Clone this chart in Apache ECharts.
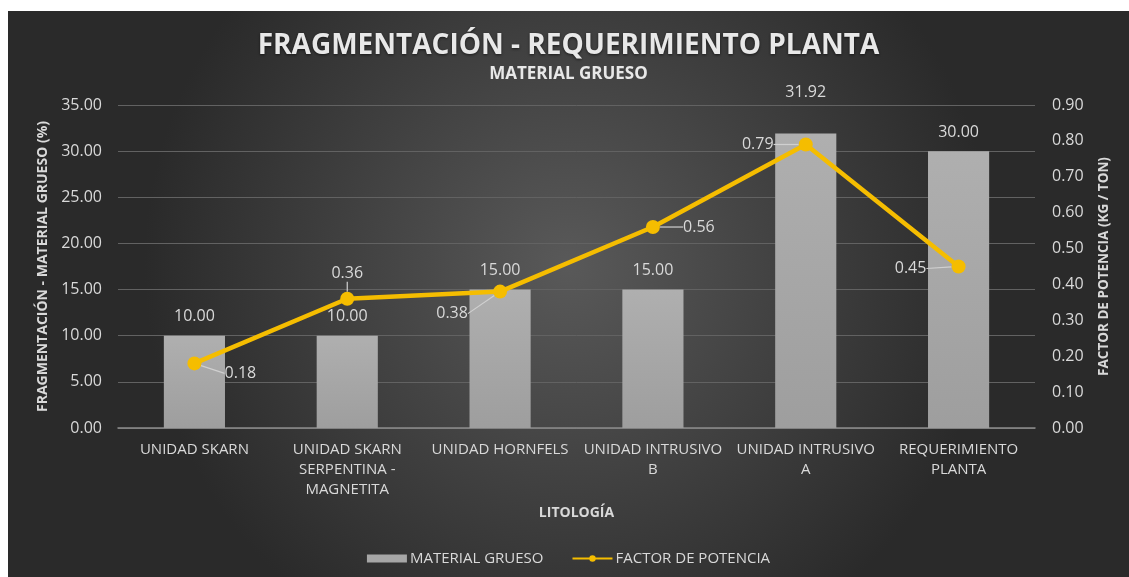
<!DOCTYPE html>
<html>
<head>
<meta charset="utf-8">
<script src="https://cdn.jsdelivr.net/npm/echarts@6/dist/echarts.min.js"></script>
<style>
    html, body { margin: 0; padding: 0; background: #ffffff; }
    #chart { position: absolute; left: 8px; top: 11px; width: 1121px; height: 566px; }
</style>
</head>
<body>
<div id="chart"></div>
<script>
var categories = ['UNIDAD SKARN', 'UNIDAD SKARN\nSERPENTINA -\nMAGNETITA', 'UNIDAD HORNFELS', 'UNIDAD INTRUSIVO\nB', 'UNIDAD INTRUSIVO\nA', 'REQUERIMIENTO\nPLANTA'];
var materialGrueso = [10, 10, 15, 15, 31.92, 30];
var factorPotencia = [0.18, 0.36, 0.38, 0.56, 0.79, 0.45];
var leftTicks = [0, 35, 5];
var rightTicks = [0, 0.9, 0.1];

// where each line label sits relative to its point (Excel put them by hand)
var lineLabelShift = [[46, 10], [0, -25], [-48, 22], [46, 0], [-48, 0], [-48, 2]];
var barLabelShift = [0, 0, 0, 0, -22, 0];

var txt = '#d9d9d9';
var font = 'Open Sans';

var myChart = echarts.init(document.getElementById('chart'));

var option = {
    backgroundColor: {
        type: 'radial', x: 0.5, y: 0.45, r: 0.75,
        colorStops: [
            { offset: 0, color: '#595959' },
            { offset: 1, color: '#2a2a2a' }
        ]
    },
    textStyle: { fontFamily: font },
    title: [
        {
            text: 'FRAGMENTACIÓN - REQUERIMIENTO PLANTA',
            left: 'center', top: 16,
            textStyle: { color: '#e8e8e8', fontSize: 28, fontWeight: 'bold', fontFamily: font,
                textShadowColor: 'rgba(0,0,0,0.6)', textShadowBlur: 3, textShadowOffsetY: 1 }
        },
        {
            text: 'MATERIAL GRUESO',
            left: 'center', top: 50,
            textStyle: { color: '#e8e8e8', fontSize: 17, fontWeight: 'bold', fontFamily: font }
        }
    ],
    legend: {
        bottom: 6, left: 'center',
        itemGap: 28,
        textStyle: { color: txt, fontSize: 15, fontFamily: font, padding: [0, 0, 0, -2] },
        data: [
            { name: 'MATERIAL GRUESO', icon: 'rect', itemStyle: { color: '#a6a6a6' } },
            { name: 'FACTOR DE POTENCIA' }
        ],
        itemWidth: 40, itemHeight: 8
    },
    grid: { left: 110, right: 94, top: 94, bottom: 149 },
    xAxis: {
        type: 'category',
        data: categories,
        name: 'LITOLOGÍA',
        nameLocation: 'middle',
        nameGap: 78,
        nameTextStyle: { color: txt, fontSize: 14, fontWeight: 'bold', fontFamily: font },
        axisLine: { lineStyle: { color: '#8c8c8c', width: 1.5 } },
        axisTick: { show: false },
        axisLabel: { interval: 0, color: txt, fontSize: 15, lineHeight: 20, margin: 12, fontFamily: font }
    },
    yAxis: [
        {
            type: 'value',
            min: leftTicks[0], max: leftTicks[1], interval: leftTicks[2],
            name: 'FRAGMENTACIÓN - MATERIAL GRUESO (%)',
            nameLocation: 'middle', nameGap: 68,
            nameTextStyle: { color: txt, fontSize: 14, fontWeight: 'bold', fontFamily: font },
            axisLine: { show: false },
            axisTick: { show: false },
            axisLabel: { color: txt, fontSize: 16, margin: 16, fontFamily: font,
                formatter: function (v) { return v.toFixed(2); } },
            splitLine: { lineStyle: { color: '#626262', width: 1 } }
        },
        {
            type: 'value',
            min: rightTicks[0], max: rightTicks[1], interval: rightTicks[2],
            name: 'FACTOR DE POTENCIA (KG / TON)',
            nameLocation: 'middle', nameGap: 62, nameRotate: 90,
            nameTextStyle: { color: txt, fontSize: 13.5, fontWeight: 'bold', fontFamily: font },
            axisLine: { show: false },
            axisTick: { show: false },
            axisLabel: { color: txt, fontSize: 16, margin: 17, fontFamily: font,
                formatter: function (v) { return v.toFixed(2); } },
            splitLine: { show: false }
        }
    ],
    series: [
        {
            name: 'MATERIAL GRUESO',
            type: 'bar',
            yAxisIndex: 0,
            barWidth: '40%',
            data: materialGrueso.map(function (v, i) {
                return { value: v, label: { offset: [0, barLabelShift[i]] } };
            }),
            itemStyle: {
                color: { type: 'linear', x: 0, y: 0, x2: 0, y2: 1,
                    colorStops: [{ offset: 0, color: '#afafaf' }, { offset: 1, color: '#9e9e9e' }] }
            },
            label: {
                show: true, position: 'top', distance: 11,
                color: txt, fontSize: 16, fontFamily: font,
                formatter: function (p) { return p.value.toFixed(2); }
            }
        },
        {
            name: 'FACTOR DE POTENCIA',
            type: 'line',
            yAxisIndex: 1,
            data: factorPotencia,
            symbol: 'circle',
            symbolSize: 14,
            lineStyle: { color: '#f5bd00', width: 4.5 },
            itemStyle: { color: '#f5bd00' },
            z: 5,
            label: {
                show: true, position: 'inside',
                color: txt, fontSize: 16, fontFamily: font,
                formatter: function (p) { return p.value.toFixed(2); }
            },
            labelLine: { show: true, lineStyle: { color: '#d0d0d0', width: 1.2 } },
            labelLayout: function (p) {
                var s = lineLabelShift[p.dataIndex];
                return { dx: s[0], dy: s[1] };
            }
        }
    ]
};

myChart.setOption(option);
</script>
</body>
</html>
